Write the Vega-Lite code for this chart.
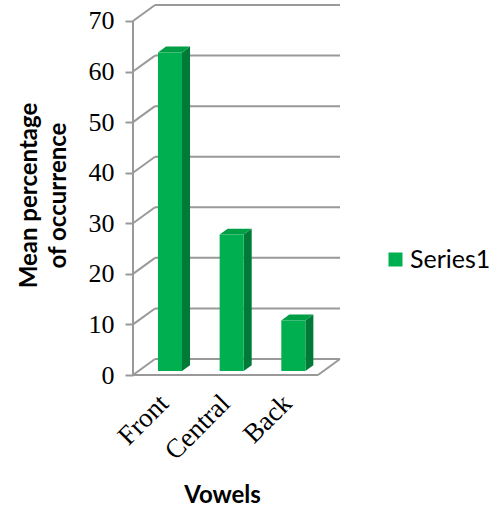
{
  "$schema": "https://vega.github.io/schema/vega-lite/v6.json",
  "width": 207,
  "height": 370,
  "autosize": {"type": "none"},
  "padding": {"left": 133, "top": 5, "right": 154, "bottom": 135},
  "background": "white",
  "config": {"view": {"stroke": null}},
  "datasets": {
    "vowels": [
      {"vowel": "Front", "value": 63, "series": "Series1"},
      {"vowel": "Central", "value": 27, "series": "Series1"},
      {"vowel": "Back", "value": 10, "series": "Series1"}
    ],
    "ticks": [
      {"t": 0}, {"t": 10}, {"t": 20}, {"t": 30},
      {"t": 40}, {"t": 50}, {"t": 60}, {"t": 70}
    ]
  },
  "layer": [
    {
      "description": "back wall gridlines, shifted by the chart depth; this layer carries both axes",
      "data": {"name": "ticks"},
      "transform": [
        {"calculate": "datum.t + 3.16", "as": "tb"},
        {"calculate": "0.357", "as": "gx"},
        {"calculate": "3.357", "as": "gx2"}
      ],
      "mark": {"type": "rule", "color": "#999999", "strokeWidth": 2},
      "encoding": {
        "x": {
          "field": "gx",
          "type": "quantitative",
          "scale": {"domain": [0, 3.357], "nice": false},
          "axis": {
            "values": [0.5, 1.5, 2.5],
            "labelExpr": "datum.value < 1 ? 'Front' : datum.value < 2 ? 'Central' : 'Back'",
            "labelAngle": -45,
            "labelAlign": "right",
            "labelBaseline": "middle",
            "labelPadding": 24,
            "labelFont": "Liberation Serif",
            "labelFontSize": 27,
            "labelColor": "#000000",
            "labelOverlap": false,
            "labelBound": false,
            "labelFlush": false,
            "ticks": false,
            "domain": false,
            "grid": false,
            "title": "Vowels",
            "titleFont": "Lato",
            "titleFontSize": 24,
            "titleFontWeight": "bold",
            "titleColor": "#000000",
            "titleX": 89,
            "titleY": 120,
            "titleAlign": "center",
            "titleBaseline": "middle"
          }
        },
        "x2": {"field": "gx2"},
        "y": {
          "field": "tb",
          "type": "quantitative",
          "scale": {"domain": [0, 73.16], "nice": false},
          "axis": {
            "values": [0, 10, 20, 30, 40, 50, 60, 70],
            "domain": false,
            "grid": false,
            "tickColor": "#999999",
            "tickWidth": 2,
            "tickSize": 8,
            "labelFont": "Liberation Serif",
            "labelFontSize": 26,
            "labelColor": "#000000",
            "labelPadding": 11,
            "title": ["Mean percentage", "of occurrence"],
            "titleFont": "Lato",
            "titleFontSize": 24,
            "titleFontWeight": "bold",
            "titleColor": "#000000",
            "titleLineHeight": 29,
            "titleX": -104,
            "titleY": 190,
            "titleAlign": "center",
            "titleBaseline": "middle",
            "titleAngle": -90
          }
        }
      }
    },
    {
      "description": "side wall depth lines from each tick to the back wall",
      "data": {"name": "ticks"},
      "transform": [
        {"calculate": "datum.t + 3.16", "as": "tb"},
        {"calculate": "0", "as": "gx"},
        {"calculate": "0.357", "as": "gx2"}
      ],
      "mark": {"type": "rule", "color": "#999999", "strokeWidth": 2},
      "encoding": {
        "x": {"field": "gx", "type": "quantitative"},
        "x2": {"field": "gx2"},
        "y": {"field": "t", "type": "quantitative"},
        "y2": {"field": "tb"}
      }
    },
    {
      "description": "front vertical axis line and the floor edges",
      "data": {"values": [
        {"ax": 0, "ax2": 0, "ay": 0, "ay2": 70},
        {"ax": 0, "ax2": 3, "ay": 0, "ay2": 0},
        {"ax": 3, "ax2": 3.357, "ay": 0, "ay2": 3.16}
      ]},
      "mark": {"type": "rule", "color": "#999999", "strokeWidth": 2},
      "encoding": {
        "x": {"field": "ax", "type": "quantitative"},
        "x2": {"field": "ax2"},
        "y": {"field": "ay", "type": "quantitative"},
        "y2": {"field": "ay2"}
      }
    },
    {
      "description": "shaded right side of each column",
      "data": {"name": "vowels"},
      "transform": [
        {"window": [{"op": "row_number", "as": "idx"}]},
        {"calculate": "[0, 1]", "as": "c"},
        {"flatten": ["c"]},
        {"calculate": "datum.idx - 1 + 0.795 + datum.c * 0.13", "as": "sx"},
        {"calculate": "0.79 + datum.c * 1.15", "as": "sy"},
        {"calculate": "datum.value + 0.79 + datum.c * 1.15", "as": "sy2"}
      ],
      "mark": {"type": "area", "orient": "vertical", "color": "#007A36"},
      "encoding": {
        "x": {"field": "sx", "type": "quantitative"},
        "y": {"field": "sy2", "type": "quantitative"},
        "y2": {"field": "sy"},
        "detail": {"field": "vowel", "type": "nominal"}
      }
    },
    {
      "description": "lit top of each column",
      "data": {"name": "vowels"},
      "transform": [
        {"window": [{"op": "row_number", "as": "idx"}]},
        {"calculate": "[0, 1]", "as": "c"},
        {"flatten": ["c"]},
        {"calculate": "datum.value + 0.79 + datum.c * 1.15", "as": "ty"},
        {"calculate": "datum.idx - 1 + 0.405 + datum.c * 0.13", "as": "tx"},
        {"calculate": "datum.idx - 1 + 0.795 + datum.c * 0.13", "as": "tx2"}
      ],
      "mark": {"type": "area", "orient": "horizontal", "color": "#009E45"},
      "encoding": {
        "y": {"field": "ty", "type": "quantitative"},
        "x": {"field": "tx", "type": "quantitative"},
        "x2": {"field": "tx2"},
        "detail": {"field": "vowel", "type": "nominal"}
      }
    },
    {
      "description": "front face of each column, with the series legend",
      "data": {"name": "vowels"},
      "transform": [
        {"window": [{"op": "row_number", "as": "idx"}]},
        {"calculate": "datum.idx - 1 + 0.405", "as": "fx"},
        {"calculate": "datum.idx - 1 + 0.795", "as": "fx2"},
        {"calculate": "0.79", "as": "fb"},
        {"calculate": "datum.value + 0.79", "as": "fy"}
      ],
      "mark": {"type": "rect"},
      "encoding": {
        "x": {"field": "fx", "type": "quantitative"},
        "x2": {"field": "fx2"},
        "y": {"field": "fb", "type": "quantitative"},
        "y2": {"field": "fy"},
        "color": {
          "field": "series",
          "type": "nominal",
          "scale": {"range": ["#00B050"]},
          "legend": {
            "orient": "none",
            "legendX": 250,
            "legendY": 242,
            "title": null,
            "padding": 0,
            "symbolType": "square",
            "symbolSize": 196,
            "symbolStrokeWidth": 0,
            "labelFont": "Lato",
            "labelFontSize": 25,
            "labelColor": "#000000",
            "labelOffset": 2,
            "labelLimit": 300
          }
        }
      }
    }
  ]
}
